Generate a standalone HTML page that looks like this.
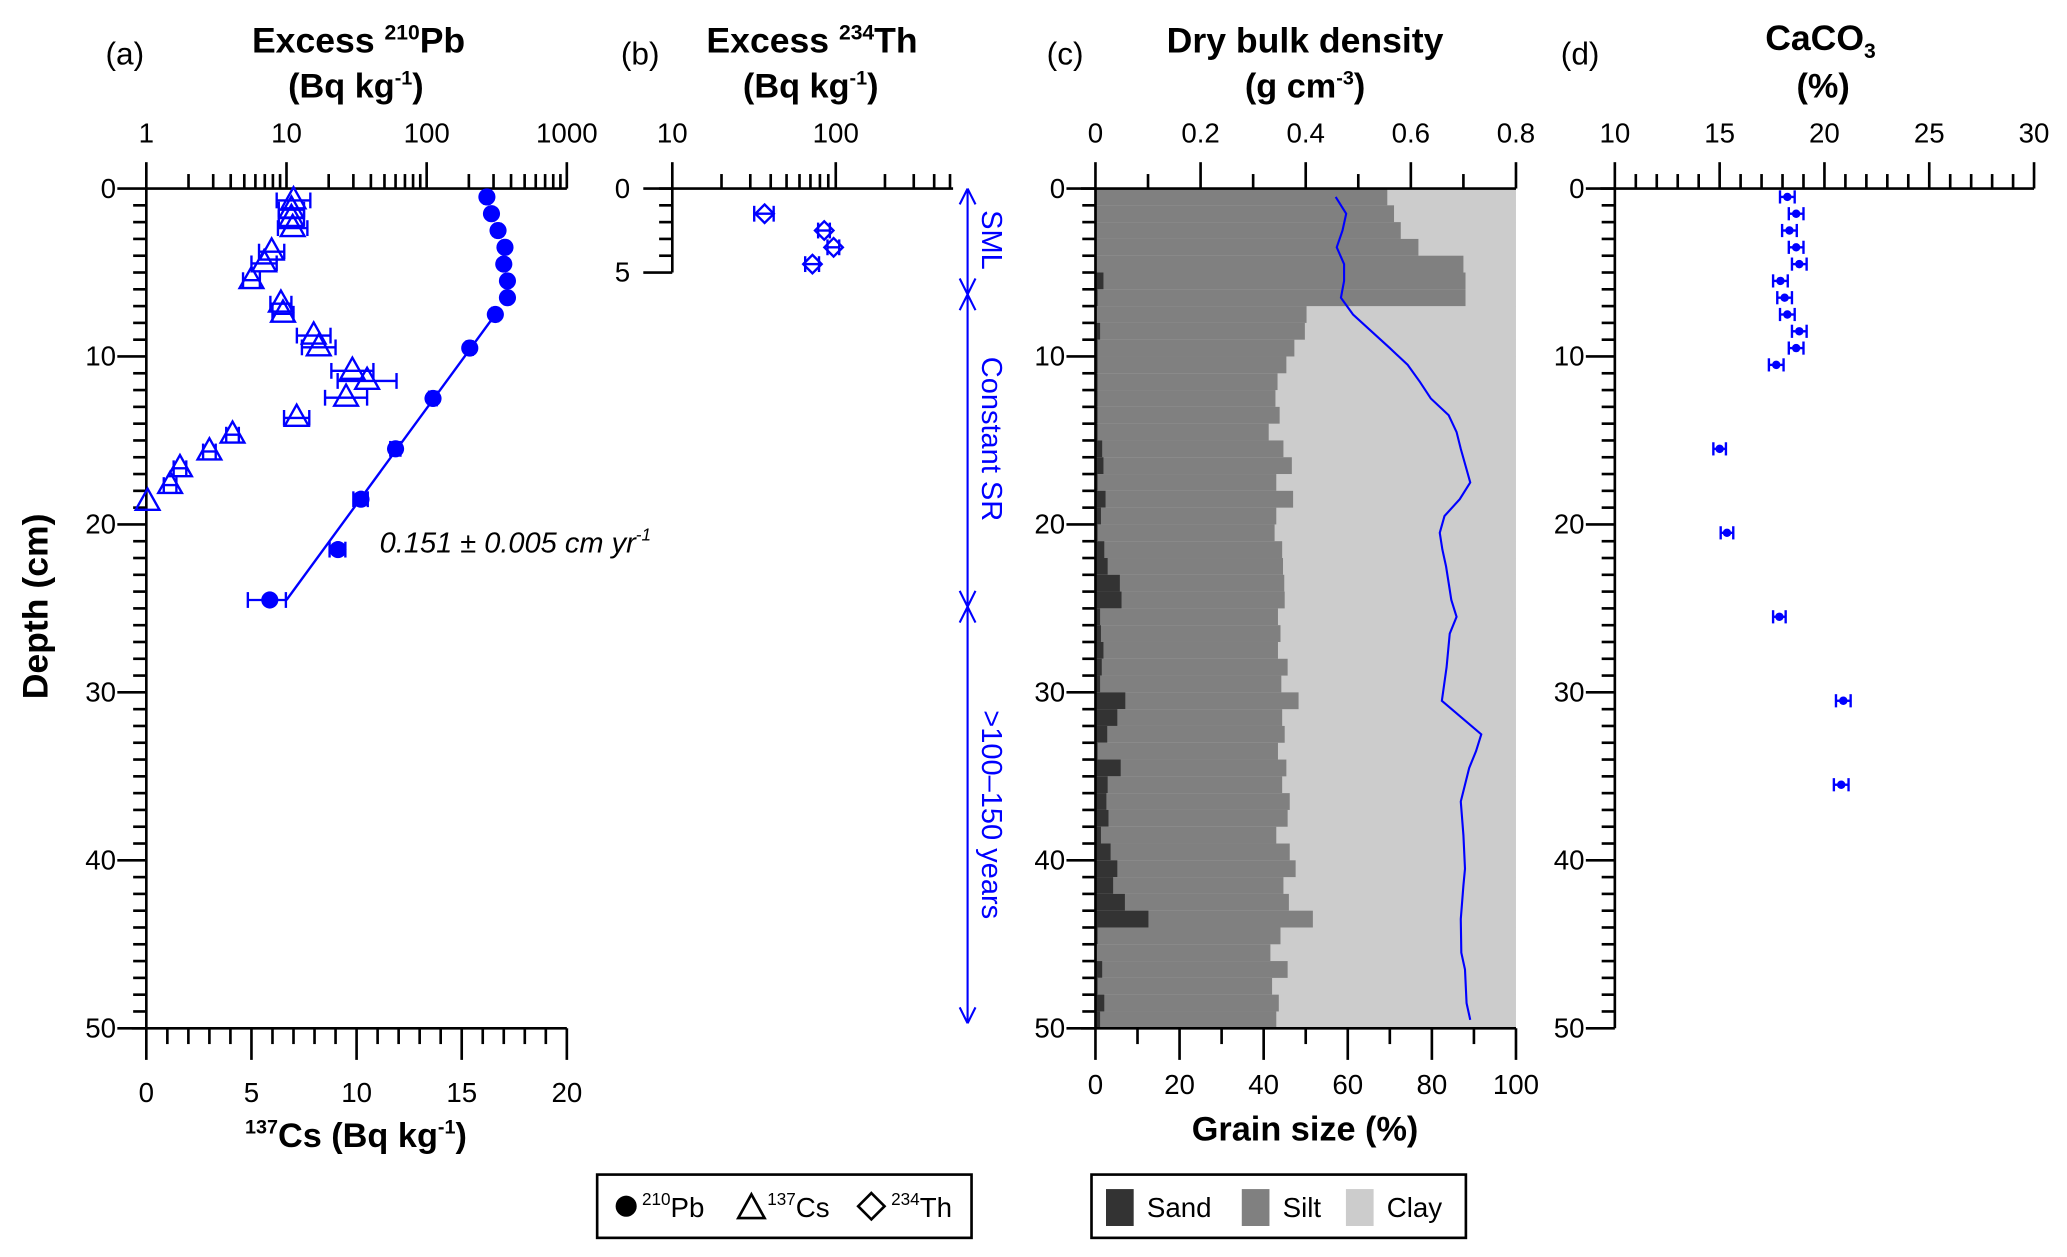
<!DOCTYPE html>
<html><head><meta charset="utf-8"><style>
html,body{margin:0;padding:0;background:#fff}
svg{display:block}
text{font-family:"Liberation Sans",Arial,sans-serif;fill:#000}
.b{font-weight:bold}
.blue{fill:#0000ff}
</style></head><body>
<svg id="fig" xmlns="http://www.w3.org/2000/svg" width="2067" height="1257" viewBox="0 0 1568 953.5">
<g id="texts">
<text x="80" y="49" font-size="24">(a)</text>
<text class="b" x="272" y="40" font-size="27" text-anchor="middle">Excess <tspan font-size="16" dy="-10">210</tspan><tspan dy="10">Pb</tspan></text>
<text class="b" x="270" y="74" font-size="26" text-anchor="middle">(Bq kg<tspan font-size="15" dy="-10">-1</tspan><tspan dy="10">)</tspan></text>
<text x="471" y="49" font-size="24">(b)</text>
<text class="b" x="616" y="40" font-size="27" text-anchor="middle">Excess <tspan font-size="16" dy="-10">234</tspan><tspan dy="10">Th</tspan></text>
<text class="b" x="615" y="74" font-size="26" text-anchor="middle">(Bq kg<tspan font-size="15" dy="-10">-1</tspan><tspan dy="10">)</tspan></text>
<text x="794" y="49" font-size="24">(c)</text>
<text class="b" x="990" y="40" font-size="27" text-anchor="middle">Dry bulk density</text>
<text class="b" x="990" y="74" font-size="26" text-anchor="middle">(g cm<tspan font-size="15" dy="-10">-3</tspan><tspan dy="10">)</tspan></text>
<text x="1184" y="49" font-size="24">(d)</text>
<text class="b" x="1381" y="38" font-size="27" text-anchor="middle">CaCO<tspan font-size="16" dy="6">3</tspan></text>
<text class="b" x="1383" y="74" font-size="26" text-anchor="middle">(%)</text>
<text class="b" font-size="27" text-anchor="middle" transform="translate(36,460) rotate(-90)">Depth (cm)</text>
<text class="b" x="270" y="870" font-size="26" text-anchor="middle"><tspan font-size="15" dy="-10">137</tspan><tspan dy="10">Cs (Bq kg</tspan><tspan font-size="15" dy="-10">-1</tspan><tspan dy="10">)</tspan></text>
<text class="b" x="990" y="865" font-size="26" text-anchor="middle">Grain size (%)</text>
<text x="288" y="419" font-size="22" font-style="italic">0.151 ± 0.005 cm yr<tspan font-size="13" dy="-9">-1</tspan></text>
<text class="blue" font-size="22" text-anchor="middle" transform="translate(745,182) rotate(90)">SML</text>
<text class="blue" font-size="22" text-anchor="middle" transform="translate(745,333) rotate(90)">Constant SR</text>
<text class="blue" font-size="22" text-anchor="middle" transform="translate(745,618) rotate(90)">&gt;100–150 years</text>
</g>
<g id="legend1">
<rect x="453" y="891" width="284" height="48" fill="#fff" stroke="#000" stroke-width="2"/>
<circle cx="475" cy="915" r="8" fill="#000"/>
<text x="487" y="923" font-size="21"><tspan font-size="13" dy="-9">210</tspan><tspan dy="9">Pb</tspan></text>
<path d="M560,924 L570,906 L580,924 Z" fill="none" stroke="#000" stroke-width="2"/>
<text x="582" y="923" font-size="21"><tspan font-size="13" dy="-9">137</tspan><tspan dy="9">Cs</tspan></text>
<path d="M661,905 L671,915 L661,925 L651,915 Z" fill="none" stroke="#000" stroke-width="2"/>
<text x="676" y="923" font-size="21"><tspan font-size="13" dy="-9">234</tspan><tspan dy="9">Th</tspan></text>
</g>
<g id="legend2">
<rect x="828" y="891" width="284" height="48" fill="#fff" stroke="#000" stroke-width="2"/>
<rect x="839" y="902" width="21" height="28" fill="#333"/>
<text x="870" y="923" font-size="21">Sand</text>
<rect x="942" y="902" width="21" height="28" fill="#808080"/>
<text x="973" y="923" font-size="21">Silt</text>
<rect x="1021" y="902" width="21" height="28" fill="#cccccc"/>
<text x="1052" y="923" font-size="21">Clay</text>
</g>
</svg>
<script>
// ---- data ----
const pbDepth = [0.5,1.5,2.5,3.5,4.5,5.5,6.5,7.5,9.5,12.5,15.5,18.5,21.5,24.5];
const pbValue = [269,290,323,362,355,377,377,309,203,111,60,34,23.3,7.6];
const pbErr = [12,12,14,15,15,16,16,14,10,7,5,4,3,2.3];
const fitDepth = [7.5,24.5];
const fitValue = [309,10];
const csDepth = [0.55,1.1,1.6,2.2,3.6,4.3,5.3,6.7,7.3,8.6,9.3,10.7,11.3,12.3,13.5,14.5,15.5,16.5,17.5,18.5];
const csValue = [7.0,6.9,6.9,6.96,5.96,5.6,5.0,6.4,6.5,7.96,8.2,9.8,10.5,9.5,7.15,4.1,3.0,1.6,1.13,0.06];
const csErr = [0.8,0.6,0.6,0.7,0.6,0.6,0.4,0.5,0.5,0.8,0.8,1.0,1.4,1.0,0.6,0.3,0.3,0.3,0.3,0];
const thDepth = [1.5,2.5,3.5,4.5];
const thValue = [36.7,85,97,72];
const thErr = [5,7,8,7];
const grainTop = [0,1,2,3,4,5,6,7,8,9,10,11,12,13,14,15,16,17,18,19,20,21,22,23,24,25,26,27,28,29,30,31,32,33,34,35,36,37,38,39,40,41,42,43,44,45,46,47,48,49];
const sandPct = [0.3,0.3,0.3,0.3,0.3,1.9,0.5,0.3,1.1,0.5,0.5,0.5,0.5,0.5,0.5,1.6,1.9,0.5,2.4,1.3,0.5,2.1,2.9,5.8,6.2,1.1,1.3,1.9,1.5,1.1,7.1,5.2,2.8,0.5,6,2.9,2.6,3.1,1.3,3.6,5.2,4.2,7,12.6,0.5,0.3,1.6,0.5,2.1,1.1];
const sandSiltPct = [69.4,71,72.6,76.8,87.5,88,88,50.2,49.8,47.3,45.4,43.3,42.8,43.8,41.2,44.7,46.7,43,47,43,42.6,44.4,44.6,44.9,45,43.4,44,43.4,45.7,44.2,48.3,44.4,45,43.4,45.4,44.4,46.2,45.7,43,46.2,47.6,44.7,46,51.7,44,41.6,45.7,42,43.6,43];
const rhoDepth = [0.5,1.5,2.5,3.5,4.5,5.5,6.5,7.5,8.5,9.5,10.5,11.5,12.5,13.5,14.5,15.5,16.5,17.5,18.5,19.5,20.5,21.5,22.5,23.5,24.5,25.5,26.5,28.5,30.5,32.5,33.5,34.5,36.5,38.5,40.5,41.5,43.5,45.5,46.5,48.5,49.5];
const rhoValue = [0.457,0.477,0.47,0.459,0.473,0.473,0.467,0.49,0.525,0.56,0.594,0.617,0.638,0.672,0.687,0.695,0.704,0.713,0.693,0.664,0.655,0.66,0.667,0.672,0.677,0.687,0.674,0.668,0.659,0.734,0.724,0.711,0.695,0.7,0.703,0.7,0.695,0.696,0.703,0.706,0.713];
const caDepth = [0.5,1.5,2.5,3.5,4.5,5.5,6.5,7.5,8.5,9.5,10.5,15.5,20.5,25.5,30.5,35.5];
const caValue = [18.23,18.65,18.33,18.65,18.8,17.9,18.1,18.23,18.8,18.65,17.7,15.0,15.35,17.85,20.9,20.8];
const caErr = [0.35,0.35,0.35,0.35,0.35,0.35,0.35,0.35,0.35,0.35,0.35,0.3,0.3,0.3,0.35,0.35];
const depthTicks = [0,10,20,30,40,50];
const pbTicks = [1,10,100,1000];
const csTicks = [0,5,10,15,20];
const thTicks = [10,100];
const rhoTicks = [0,0.2,0.4,0.6,0.8];
const grainTicks = [0,20,40,60,80,100];
const caTicks = [10,15,20,25,30];
const zoneBounds = [0,6.3,24.9,49.7];

// ---- scales ----
const Y0=143, YS=12.74;
const yD = d => Y0 + d*YS;
const xPb = v => 111 + Math.log10(v)*106.33;
const xCs = v => 111 + v*15.95;
const xTh = v => 510 + (Math.log10(v)-1)*124;
const xG = p => 831 + p*3.19;
const xRho = r => 831 + r/0.8*319;
const xCa = v => 1225 + (v-10)*15.9;

const NS='http://www.w3.org/2000/svg';
const svg=document.getElementById('fig');
function el(tag, parent){const e=document.createElementNS(NS,tag);(parent||svg).appendChild(e);return e;}
function line(g,x1,y1,x2,y2,col,w){const l=el('line',g);l.setAttribute('x1',x1);l.setAttribute('y1',y1);l.setAttribute('x2',x2);l.setAttribute('y2',y2);l.setAttribute('stroke',col||'#000');l.setAttribute('stroke-width',w||2);return l;}
function txt(g,x,y,s,anchor,size){const t=el('text',g);t.setAttribute('x',x);t.setAttribute('y',y);t.setAttribute('text-anchor',anchor||'middle');t.setAttribute('font-size',size||21);t.textContent=s;return t;}

// ---- grain bars (panel c) ----
const gBars=el('g');


grainTop.forEach((d,i)=>{
  const y=yD(d), h=YS+0.3;
  const c=el('rect',gBars);c.setAttribute('x',xG(0));c.setAttribute('y',y);c.setAttribute('width',xG(100)-xG(0));c.setAttribute('height',h);c.setAttribute('fill','#cccccc');
  
  
  const s=el('rect',gBars);s.setAttribute('x',xG(0));s.setAttribute('y',y);s.setAttribute('width',xG(sandSiltPct[i])-xG(0));s.setAttribute('height',h);s.setAttribute('fill','#808080');
  
  
  const a=el('rect',gBars);a.setAttribute('x',xG(0));a.setAttribute('y',y);a.setAttribute('width',xG(sandPct[i])-xG(0));a.setAttribute('height',h);a.setAttribute('fill','#333333');
  
  
});
const rho=el('polyline');
rho.setAttribute('points',rhoDepth.map((d,i)=>xRho(rhoValue[i])+','+yD(d)).join(' '));
rho.setAttribute('fill','none');rho.setAttribute('stroke','#0000ff');rho.setAttribute('stroke-width',1.6);



// ---- axes ----
const ax=el('g');


function depthAxis(x,maxD,labelX,name){
  const g=el('g',ax);
  
  
  line(g,x,yD(0),x,yD(maxD));
  for(let d=0;d<=maxD;d++){const major=(d%10===0)||(maxD===5&&d===5);line(g,x-(major?22:10),yD(d),x,yD(d));}
  depthTicks.filter(d=>d<=maxD).forEach(d=>{txt(g,labelX,yD(d)+7,String(d),'end');});
  if(maxD===5) txt(g,labelX,yD(5)+7,'5','end');
}
depthAxis(111,50,88,'y-axis-a');
depthAxis(510,5,478,'y-axis-b');
depthAxis(831,50,808,'y-axis-c');
depthAxis(1225,50,1202,'y-axis-d');

let g=el('g',ax);


line(g,111,Y0,430,Y0);
for(let dec=0;dec<3;dec++){for(let m=1;m<=9;m++){const v=m*Math.pow(10,dec);line(g,xPb(v),Y0,xPb(v),Y0-(m===1?20:11));}}
line(g,xPb(1000),Y0,xPb(1000),Y0-20);
pbTicks.forEach(v=>txt(g,xPb(v),108,String(v)));
g=el('g',ax);


line(g,100,yD(50),430,yD(50));
for(let v=0;v<=20;v++){line(g,xCs(v),yD(50),xCs(v),yD(50)+(v%5===0?24:12));}
csTicks.forEach(v=>txt(g,xCs(v),836,String(v)));
g=el('g',ax);


line(g,500,Y0,723,Y0);
[10,20,30,40,50,60,70,80,90,100,200,300,400,500].forEach(v=>line(g,xTh(v),Y0,xTh(v),Y0-((v===10||v===100)?20:11)));
thTicks.forEach(v=>txt(g,xTh(v),108,String(v)));
g=el('g',ax);


line(g,820,Y0,1150,Y0);
for(let i=0;i<=8;i++){line(g,xRho(i/10),Y0,xRho(i/10),Y0-(i%2===0?20:11));}
rhoTicks.forEach(v=>txt(g,xRho(v),108,String(v)));
g=el('g',ax);


line(g,820,yD(50),1150,yD(50));
for(let v=0;v<=100;v+=10){line(g,xG(v),yD(50),xG(v),yD(50)+(v%20===0?24:12));}
grainTicks.forEach(v=>txt(g,xG(v),830,String(v)));
g=el('g',ax);


line(g,1214,Y0,1543,Y0);
for(let v=10;v<=30;v++){line(g,xCa(v),Y0,xCa(v),Y0-(v%5===0?20:11));}
caTicks.forEach(v=>txt(g,xCa(v),108,String(v)));

// ---- zone arrows ----
const za=el('g');


const ZX=734,B='#0000ff';
line(za,ZX,yD(zoneBounds[0]),ZX,yD(zoneBounds[3]),B,1.6);
function head(y,dir){line(za,ZX,y,ZX-6,y-dir*12,B,1.6);line(za,ZX,y,ZX+6,y-dir*12,B,1.6);}
head(yD(zoneBounds[0]),-1);
head(yD(zoneBounds[1]),1);head(yD(zoneBounds[1]),-1);
head(yD(zoneBounds[2]),1);head(yD(zoneBounds[2]),-1);
head(yD(zoneBounds[3]),1);

// ---- series ----
function hbar(gp,x1,x2,y,col,cap){line(gp,x1,y,x2,y,col,1.8);line(gp,x1,y-cap,x1,y+cap,col,1.8);line(gp,x2,y-cap,x2,y+cap,col,1.8);}
const fit=el('line');
fit.setAttribute('x1',xPb(fitValue[0]));fit.setAttribute('y1',yD(fitDepth[0]));fit.setAttribute('x2',xPb(fitValue[1]));fit.setAttribute('y2',yD(fitDepth[1]));
fit.setAttribute('stroke',B);fit.setAttribute('stroke-width',1.8);


const gPb=el('g');


pbDepth.forEach((d,i)=>{
  const y=yD(d);
  hbar(gPb,xPb(pbValue[i]-pbErr[i]),xPb(pbValue[i]+pbErr[i]),y,B,6);
  const c=el('circle',gPb);c.setAttribute('cx',xPb(pbValue[i]));c.setAttribute('cy',y);c.setAttribute('r',6.5);c.setAttribute('fill',B);
  
  
});
const gCs=el('g');


csDepth.forEach((d,i)=>{
  const y=yD(d),x=xCs(csValue[i]);
  if(csErr[i]>0) hbar(gCs,xCs(csValue[i]-csErr[i]),xCs(csValue[i]+csErr[i]),y+2,B,6);
  const p=el('path',gCs);p.setAttribute('d',`M${x-9},${y+8} L${x},${y-8} L${x+9},${y+8} Z`);p.setAttribute('fill','none');p.setAttribute('stroke',B);p.setAttribute('stroke-width',1.8);
  
  
});
const gTh=el('g');


thDepth.forEach((d,i)=>{
  const y=yD(d),x=xTh(thValue[i]);
  hbar(gTh,xTh(thValue[i]-thErr[i]),xTh(thValue[i]+thErr[i]),y,B,6);
  const p=el('path',gTh);p.setAttribute('d',`M${x},${y-7} L${x+7},${y} L${x},${y+7} L${x-7},${y} Z`);p.setAttribute('fill','none');p.setAttribute('stroke',B);p.setAttribute('stroke-width',1.8);
  
  
});
const gCa=el('g');


caDepth.forEach((d,i)=>{
  const y=yD(d);
  hbar(gCa,xCa(caValue[i]-caErr[i]),xCa(caValue[i]+caErr[i]),y,B,5);
  const c=el('circle',gCa);c.setAttribute('cx',xCa(caValue[i]));c.setAttribute('cy',y);c.setAttribute('r',3.2);c.setAttribute('fill',B);
  
  
});
svg.appendChild(document.getElementById('texts'));
</script>
</body></html>
